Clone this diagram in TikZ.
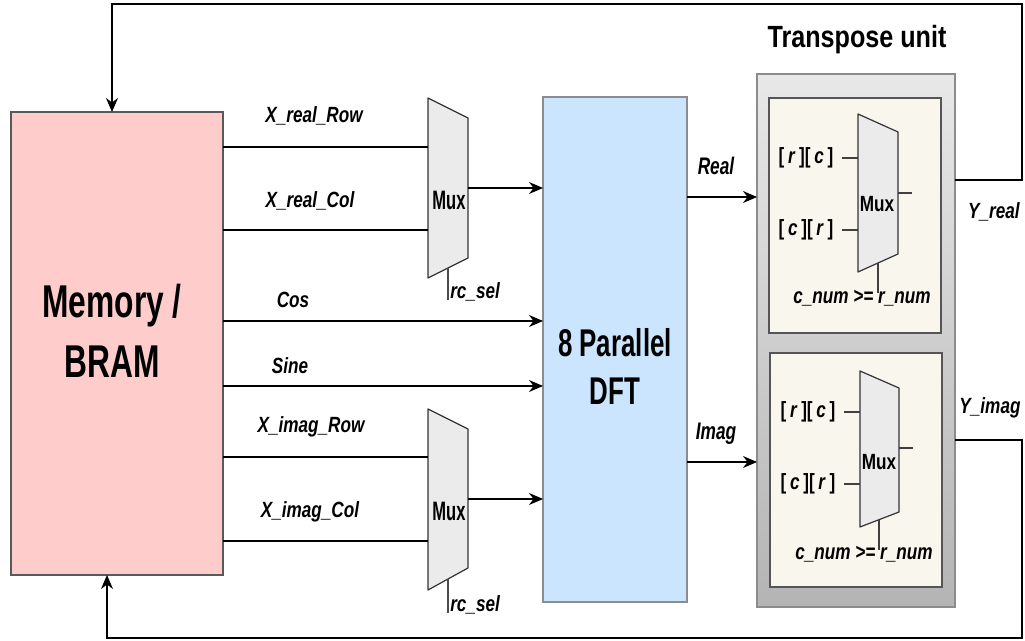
\documentclass[tikz,border=0pt]{standalone}
\usepackage{fontspec}
\setmainfont{Liberation Sans}
\newfontfamily\fbig[FakeStretch=0.69]{Liberation Sans}
\newfontfamily\fdft[FakeStretch=0.67]{Liberation Sans}
\newfontfamily\ftitle[FakeStretch=0.82]{Liberation Sans}
\newfontfamily\flab[FakeStretch=0.78]{Liberation Sans}
\newfontfamily\fri[FakeStretch=0.72]{Liberation Sans}
\newfontfamily\fmux[FakeStretch=0.62]{Liberation Sans}
\usetikzlibrary{arrows.meta}
\definecolor{mempink}{HTML}{FFCCCC}
\definecolor{dftblue}{HTML}{CCE5FF}
\definecolor{muxgray}{HTML}{EBEBEB}
\definecolor{cream}{HTML}{F9F7ED}
\definecolor{tutop}{HTML}{E8E8E8}
\definecolor{tubot}{HTML}{B4B4B4}
\definecolor{tuborder}{HTML}{8C8C8C}
\definecolor{inborder}{HTML}{555555}
\tikzset{
  wire/.style={line width=1.1pt, black},
  arr/.style={wire, -{Stealth[length=10.5pt,width=9pt]}},
  muxshape/.style={draw=black!80, fill=muxgray, line width=0.9pt, line join=round},
  lab/.style={font=\flab\fontsize{16.5}{19}\selectfont\bfseries\itshape, inner sep=0pt},
  ri/.style={font=\fri\fontsize{18}{20}\selectfont\bfseries\itshape, inner sep=0pt},
  muxtxt/.style={font=\fmux\fontsize{20}{22}\selectfont\bfseries, inner sep=0pt},
  imuxtxt/.style={font=\flab\fontsize{16.5}{19}\selectfont\bfseries, inner sep=0pt},
  idx/.style={font=\flab\fontsize{16.5}{19}\selectfont\bfseries, inner sep=0pt},
}
\begin{document}
\begin{tikzpicture}[x=0.75pt, y=-0.75pt]
\useasboundingbox (0,0) rectangle (1025,641);

% Memory
\node[draw=black!65, fill=mempink, line width=0.8pt, minimum width=159pt, minimum height=347.25pt, inner sep=0pt, outer sep=0pt] (mem) at (117,343.5) {};
\node[font=\fbig\fontsize{34.5}{45}\selectfont\bfseries, align=center, inner sep=0pt] (memtxt) at (112,331) {Memory /\\BRAM};

% DFT
\node[draw=black!45, fill=dftblue, line width=0.8pt, minimum width=108pt, minimum height=378.75pt, inner sep=0pt, outer sep=0pt] (dft) at (615,349.5) {};
\node[font=\fdft\fontsize{29}{36}\selectfont\bfseries, align=center, inner sep=0pt] (dfttxt) at (615,366) {8 Parallel\\DFT};

% Transpose unit
\node[draw=tuborder, top color=tutop, bottom color=tubot, line width=1.1pt, minimum width=148.5pt, minimum height=399.75pt, inner sep=0pt, outer sep=0pt] (tu) at (856,340.5) {};
\node[font=\ftitle\fontsize{23}{26}\selectfont\bfseries, inner sep=0pt] (tutitle) at (857,40) {Transpose unit};
\node[draw=inborder, fill=cream, line width=1.1pt, minimum width=129pt, minimum height=176.25pt, inner sep=0pt, outer sep=0pt] (in1) at (855,215.5) {};
\node[draw=inborder, fill=cream, line width=1.1pt, minimum width=129pt, minimum height=175.5pt, inner sep=0pt, outer sep=0pt] (in2) at (856,470) {};

% Mux 1
\draw[muxshape] (428,98) -- (468,118) -- (468,258) -- (428,278) -- cycle;
\node[muxtxt] (mux1) at (449,200) {Mux};
\coordinate (m1a) at (428,147);
\coordinate (m1b) at (428,230);
\coordinate (m1o) at (468,188);
\coordinate (m1s) at (448,268);
\coordinate (m1se) at (448,300);
% Mux 2
\draw[muxshape] (428,409) -- (468,429) -- (468,568) -- (428,590) -- cycle;
\node[muxtxt] (mux2) at (449,511) {Mux};
\coordinate (m2a) at (428,457);
\coordinate (m2b) at (428,541);
\coordinate (m2o) at (468,499);
\coordinate (m2s) at (448,579);
\coordinate (m2se) at (448,613);

% inputs from memory
\draw[wire] (mem.east |- m1a) -- (m1a);
\draw[wire] (mem.east |- m1b) -- (m1b);
\draw[wire] (mem.east |- m2a) -- (m2a);
\draw[wire] (mem.east |- m2b) -- (m2b);
\draw[arr] (mem.east |- 0,321) -- (dft.west |- 0,321);
\draw[arr] (mem.east |- 0,386) -- (dft.west |- 0,386);
\draw[arr] (m1o) -- (dft.west |- m1o);
\draw[arr] (m2o) -- (dft.west |- m2o);
\draw[line width=0.8pt, black!70] (m1s) -- (m1se);
\draw[line width=0.8pt, black!70] (m2s) -- (m2se);

\node[lab] (l1) at (314,116) {X\_real\_Row};
\node[lab] (l2) at (310,201) {X\_real\_Col};
\node[lab] (l3) at (293,300) {Cos};
\node[lab] (l4) at (290,366) {Sine};
\node[lab] (l5) at (311,427) {X\_imag\_Row};
\node[lab] (l6) at (310,512) {X\_imag\_Col};
\node[lab, anchor=west] (s1) at (450,292) {rc\_sel};
\node[lab, anchor=west] (s2) at (450,605) {rc\_sel};

% DFT to transpose
\draw[arr] (dft.east |- 0,197) -- (tu.west |- 0,197);
\draw[arr] (dft.east |- 0,462) -- (tu.west |- 0,462);
\node[ri] (lr) at (716,166) {Real};
\node[ri] (li) at (716,434) {Imag};

% inner mux 1
\draw[muxshape] (858,114) -- (898,132) -- (898,254) -- (858,272) -- cycle;
\node[imuxtxt] (im1) at (877,204) {Mux};
\node[idx] (i1a) at (806,158) {[\,\textit{r}\,][\,\textit{c}\,]};
\node[idx] (i1b) at (806,230) {[\,\textit{c}\,][\,\textit{r}\,]};
\draw[line width=0.8pt, black!75] (i1a.east) ++(8,0) -- (858,158);
\draw[line width=0.8pt, black!75] (i1b.east) ++(8,0) -- (858,230);
\draw[line width=0.8pt, black!75] (898,193) -- (912,193);
\node[lab] (c1) at (862,298) {c\_num >= r\_num};
\draw[line width=0.8pt, black!75] (878,263) -- (878,293);

% inner mux 2
\draw[muxshape] (860,371) -- (899,388) -- (899,512) -- (860,527) -- cycle;
\node[imuxtxt] (im2) at (879,462) {Mux};
\node[idx] (i2a) at (808,412) {[\,\textit{r}\,][\,\textit{c}\,]};
\node[idx] (i2b) at (808,484) {[\,\textit{c}\,][\,\textit{r}\,]};
\draw[line width=0.8pt, black!75] (i2a.east) ++(8,0) -- (860,412);
\draw[line width=0.8pt, black!75] (i2b.east) ++(8,0) -- (860,484);
\draw[line width=0.8pt, black!75] (899,448) -- (913,448);
\node[lab] (c2) at (864,554) {c\_num >= r\_num};
\draw[line width=0.8pt, black!75] (879,520) -- (879,550);

% feedback
\node[lab] (yr) at (994,212) {Y\_real};
\node[lab] (yi) at (990,408) {Y\_imag};
\coordinate (tr) at (1022,4);
\coordinate (br) at (1022,638);
\draw[arr] (tu.east |- 0,180) -| (tr) -| (mem.north -| 112,0);
\draw[arr] (tu.east |- 0,440) -| (br) -| (mem.south -| 107,0);
\end{tikzpicture}
\end{document}
